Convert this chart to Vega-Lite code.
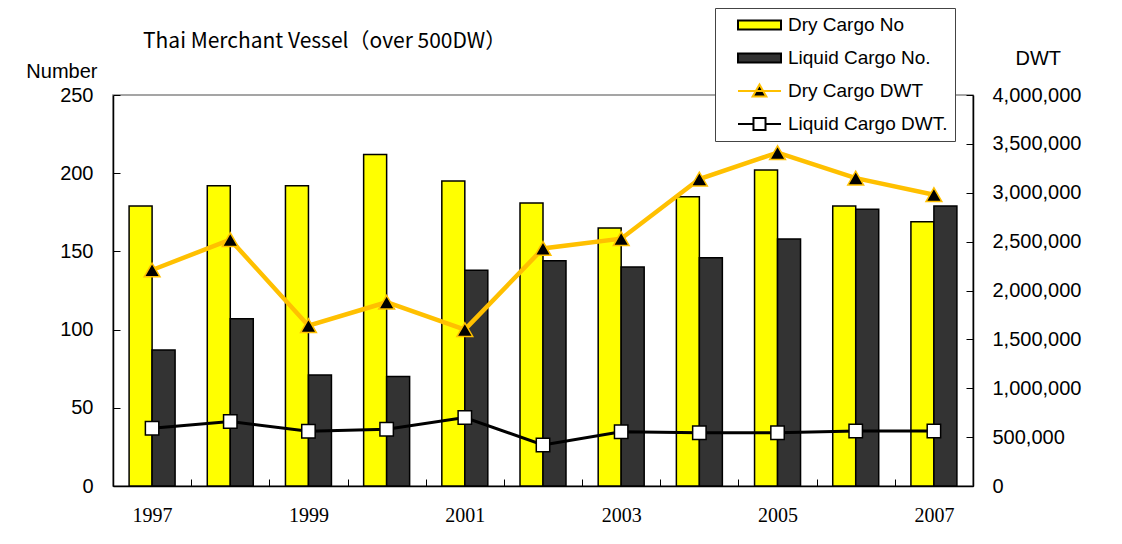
{
  "$schema": "https://vega.github.io/schema/vega-lite/v6.json",
  "width": 860,
  "height": 391,
  "autosize": "none",
  "padding": {"left": 113, "top": 95, "right": 149, "bottom": 58},
  "background": "white",
  "config": {
    "view": {"stroke": "#888888", "strokeWidth": 1.5},
    "font": "Liberation Sans"
  },
  "title": {
    "text": "Thai Merchant Vessel（over 500DW）",
    "anchor": "start",
    "frame": "group",
    "font": "Noto Sans CJK JP",
    "fontSize": 21,
    "fontWeight": "normal",
    "color": "#000000",
    "dx": 30,
    "dy": 61,
    "baseline": "alphabetic",
    "offset": 0
  },
  "data": {
    "values": [
      {"year": "1997", "series": "Dry Cargo No", "value": 179},
      {"year": "1998", "series": "Dry Cargo No", "value": 192},
      {"year": "1999", "series": "Dry Cargo No", "value": 192},
      {"year": "2000", "series": "Dry Cargo No", "value": 212},
      {"year": "2001", "series": "Dry Cargo No", "value": 195},
      {"year": "2002", "series": "Dry Cargo No", "value": 181},
      {"year": "2003", "series": "Dry Cargo No", "value": 165},
      {"year": "2004", "series": "Dry Cargo No", "value": 185},
      {"year": "2005", "series": "Dry Cargo No", "value": 202},
      {"year": "2006", "series": "Dry Cargo No", "value": 179},
      {"year": "2007", "series": "Dry Cargo No", "value": 169},
      {"year": "1997", "series": "Liquid Cargo No.", "value": 87},
      {"year": "1998", "series": "Liquid Cargo No.", "value": 107},
      {"year": "1999", "series": "Liquid Cargo No.", "value": 71},
      {"year": "2000", "series": "Liquid Cargo No.", "value": 70},
      {"year": "2001", "series": "Liquid Cargo No.", "value": 138},
      {"year": "2002", "series": "Liquid Cargo No.", "value": 144},
      {"year": "2003", "series": "Liquid Cargo No.", "value": 140},
      {"year": "2004", "series": "Liquid Cargo No.", "value": 146},
      {"year": "2005", "series": "Liquid Cargo No.", "value": 158},
      {"year": "2006", "series": "Liquid Cargo No.", "value": 177},
      {"year": "2007", "series": "Liquid Cargo No.", "value": 179},
      {"year": "1997", "series": "Dry Cargo DWT", "value": 2210000},
      {"year": "1998", "series": "Dry Cargo DWT", "value": 2520000},
      {"year": "1999", "series": "Dry Cargo DWT", "value": 1640000},
      {"year": "2000", "series": "Dry Cargo DWT", "value": 1880000},
      {"year": "2001", "series": "Dry Cargo DWT", "value": 1600000},
      {"year": "2002", "series": "Dry Cargo DWT", "value": 2430000},
      {"year": "2003", "series": "Dry Cargo DWT", "value": 2530000},
      {"year": "2004", "series": "Dry Cargo DWT", "value": 3140000},
      {"year": "2005", "series": "Dry Cargo DWT", "value": 3410000},
      {"year": "2006", "series": "Dry Cargo DWT", "value": 3150000},
      {"year": "2007", "series": "Dry Cargo DWT", "value": 2980000},
      {"year": "1997", "series": "Liquid Cargo DWT.", "value": 590000},
      {"year": "1998", "series": "Liquid Cargo DWT.", "value": 660000},
      {"year": "1999", "series": "Liquid Cargo DWT.", "value": 560000},
      {"year": "2000", "series": "Liquid Cargo DWT.", "value": 580000},
      {"year": "2001", "series": "Liquid Cargo DWT.", "value": 700000},
      {"year": "2002", "series": "Liquid Cargo DWT.", "value": 420000},
      {"year": "2003", "series": "Liquid Cargo DWT.", "value": 555000},
      {"year": "2004", "series": "Liquid Cargo DWT.", "value": 545000},
      {"year": "2005", "series": "Liquid Cargo DWT.", "value": 545000},
      {"year": "2006", "series": "Liquid Cargo DWT.", "value": 563000},
      {"year": "2007", "series": "Liquid Cargo DWT.", "value": 563000}
    ]
  },
  "encoding": {
    "x": {
      "field": "year",
      "type": "ordinal",
      "scale": {"paddingInner": 0, "paddingOuter": 0},
      "axis": {
        "title": null,
        "labelAngle": 0,
        "labelFont": "Liberation Serif",
        "labelFontSize": 20,
        "labelColor": "#000000",
        "labelPadding": 26,
        "labelExpr": "toNumber(datum.value) % 2 == 1 ? datum.label : ''",
        "tickBand": "extent",
        "tickSize": -7,
        "tickColor": "#000000",
        "tickWidth": 1,
        "domainColor": "#000000",
        "domainWidth": 1.5
      }
    }
  },
  "layer": [
    {
      "transform": [{"filter": "datum.series === 'Dry Cargo No' || datum.series === 'Liquid Cargo No.'"}],
      "mark": {"type": "bar", "strokeWidth": 1.5, "opacity": 1},
      "encoding": {
        "xOffset": {
          "field": "series",
          "scale": {"domain": ["Dry Cargo No", "Liquid Cargo No."], "paddingInner": 0, "paddingOuter": 0.7}
        },
        "y": {
          "field": "value",
          "type": "quantitative",
          "scale": {"domain": [0, 250], "nice": false},
          "axis": {
            "orient": "left",
            "values": [0, 50, 100, 150, 200, 250],
            "grid": false,
            "title": "Number",
            "titleAngle": 0,
            "titleAlign": "right",
            "titleBaseline": "alphabetic",
            "titleX": -16,
            "titleY": -18,
            "titleFont": "Liberation Sans",
            "titleFontSize": 20,
            "titleFontWeight": "normal",
            "titleColor": "#000000",
            "labelFont": "Liberation Sans",
            "labelFontSize": 20,
            "labelColor": "#000000",
            "labelPadding": 27,
            "tickSize": -7,
            "tickColor": "#000000",
            "domainColor": "#000000",
            "domainWidth": 1.5
          }
        },
        "fill": {
          "field": "series",
          "type": "nominal",
          "scale": {
            "domain": ["Dry Cargo No", "Liquid Cargo No.", "Dry Cargo DWT", "Liquid Cargo DWT."],
            "range": ["#FFFF00", "#333333", "#000000", "#FFFFFF"]
          },
          "legend": {
            "title": null,
            "orient": "none",
            "legendX": 602,
            "legendY": -87,
            "padding": 7,
            "fillColor": "#FFFFFF",
            "strokeColor": "#444444",
            "symbolSize": 1849,
            "symbolOpacity": 1,
            "symbolStrokeWidth": 2,
            "clipHeight": 20,
            "rowPadding": 13,
            "symbolOffset": 15,
            "labelOffset": 6,
            "labelFont": "Liberation Sans",
            "labelFontSize": 19,
            "labelColor": "#000000",
            "labelLimit": 300
          }
        },
        "stroke": {
          "field": "series",
          "type": "nominal",
          "scale": {
            "domain": ["Dry Cargo No", "Liquid Cargo No.", "Dry Cargo DWT", "Liquid Cargo DWT."],
            "range": ["#000000", "#000000", "#FFC000", "#000000"]
          }
        }
      }
    },
    {
      "encoding": {
        "y": {
          "field": "value",
          "type": "quantitative",
          "scale": {"domain": [0, 4000000], "nice": false},
          "axis": {
            "orient": "right",
            "values": [0, 500000, 1000000, 1500000, 2000000, 2500000, 3000000, 3500000, 4000000],
            "format": ",d",
            "grid": false,
            "title": "DWT",
            "titleAngle": 0,
            "titleAlign": "left",
            "titleBaseline": "alphabetic",
            "titleX": 42,
            "titleY": -31,
            "titleFont": "Liberation Sans",
            "titleFontSize": 20,
            "titleFontWeight": "normal",
            "titleColor": "#000000",
            "labelFont": "Liberation Sans",
            "labelFontSize": 20,
            "labelColor": "#000000",
            "labelPadding": 26,
            "tickSize": -7,
            "tickColor": "#000000",
            "domainColor": "#000000",
            "domainWidth": 1.5
          }
        }
      },
      "layer": [
        {
          "transform": [{"filter": "datum.series === 'Dry Cargo DWT'"}],
          "mark": {"type": "line", "strokeWidth": 4.5},
          "encoding": {
            "stroke": {
              "field": "series",
              "type": "nominal",
              "scale": {
                "domain": ["Dry Cargo No", "Liquid Cargo No.", "Dry Cargo DWT", "Liquid Cargo DWT."],
                "range": ["#000000", "#000000", "#FFC000", "#000000"]
              }
            }
          }
        },
        {
          "transform": [{"filter": "datum.series === 'Liquid Cargo DWT.'"}],
          "mark": {"type": "line", "strokeWidth": 3},
          "encoding": {
            "stroke": {
              "field": "series",
              "type": "nominal",
              "scale": {
                "domain": ["Dry Cargo No", "Liquid Cargo No.", "Dry Cargo DWT", "Liquid Cargo DWT."],
                "range": ["#000000", "#000000", "#FFC000", "#000000"]
              }
            }
          }
        },
        {
          "transform": [{"filter": "datum.series === 'Dry Cargo DWT'"}],
          "mark": {"type": "point", "shape": "triangle-up", "filled": true, "fill": "#000000", "stroke": "#FFC000", "strokeWidth": 1.5, "size": 250, "opacity": 1},
          "encoding": {}
        },
        {
          "transform": [{"filter": "datum.series === 'Liquid Cargo DWT.'"}],
          "mark": {"type": "point", "shape": "square", "filled": true, "fill": "#FFFFFF", "stroke": "#000000", "strokeWidth": 1.5, "size": 180, "opacity": 1},
          "encoding": {}
        },
        {
          "transform": [{"filter": "datum.series === 'Dry Cargo DWT' || datum.series === 'Liquid Cargo DWT.'"}],
          "mark": {"type": "point", "filled": true, "opacity": 0},
          "encoding": {
            "fill": {
              "field": "series",
              "type": "nominal",
              "scale": {
                "domain": ["Dry Cargo No", "Liquid Cargo No.", "Dry Cargo DWT", "Liquid Cargo DWT."],
                "range": ["#FFFF00", "#333333", "#000000", "#FFFFFF"]
              }
            },
            "stroke": {
              "field": "series",
              "type": "nominal",
              "scale": {
                "domain": ["Dry Cargo No", "Liquid Cargo No.", "Dry Cargo DWT", "Liquid Cargo DWT."],
                "range": ["#000000", "#000000", "#FFC000", "#000000"]
              }
            },
            "shape": {
              "field": "series",
              "type": "nominal",
              "scale": {
                "domain": ["Dry Cargo No", "Liquid Cargo No.", "Dry Cargo DWT", "Liquid Cargo DWT."],
                "range": [
                  "M-1,-0.21H1V0.21H-1Z",
                  "M-1,-0.21H1V0.21H-1Z",
                  "M-1,0H1M-0.32,0.26L0,-0.3L0.32,0.26Z",
                  "M-1,0H-0.28M0.28,0H1M-0.28,-0.28H0.28V0.28H-0.28Z"
                ]
              },
              "legend": {
                "title": null,
                "orient": "none",
                "legendX": 602,
                "legendY": -87,
                "padding": 7,
                "fillColor": "#FFFFFF",
                "strokeColor": "#444444",
                "symbolSize": 1849,
                "symbolOpacity": 1,
                "symbolStrokeWidth": 2,
                "clipHeight": 20,
                "rowPadding": 13,
                "symbolOffset": 15,
                "labelOffset": 6,
                "labelFont": "Liberation Sans",
                "labelFontSize": 19,
                "labelColor": "#000000",
                "labelLimit": 300
              }
            }
          }
        }
      ]
    }
  ],
  "resolve": {"scale": {"y": "independent"}}
}
